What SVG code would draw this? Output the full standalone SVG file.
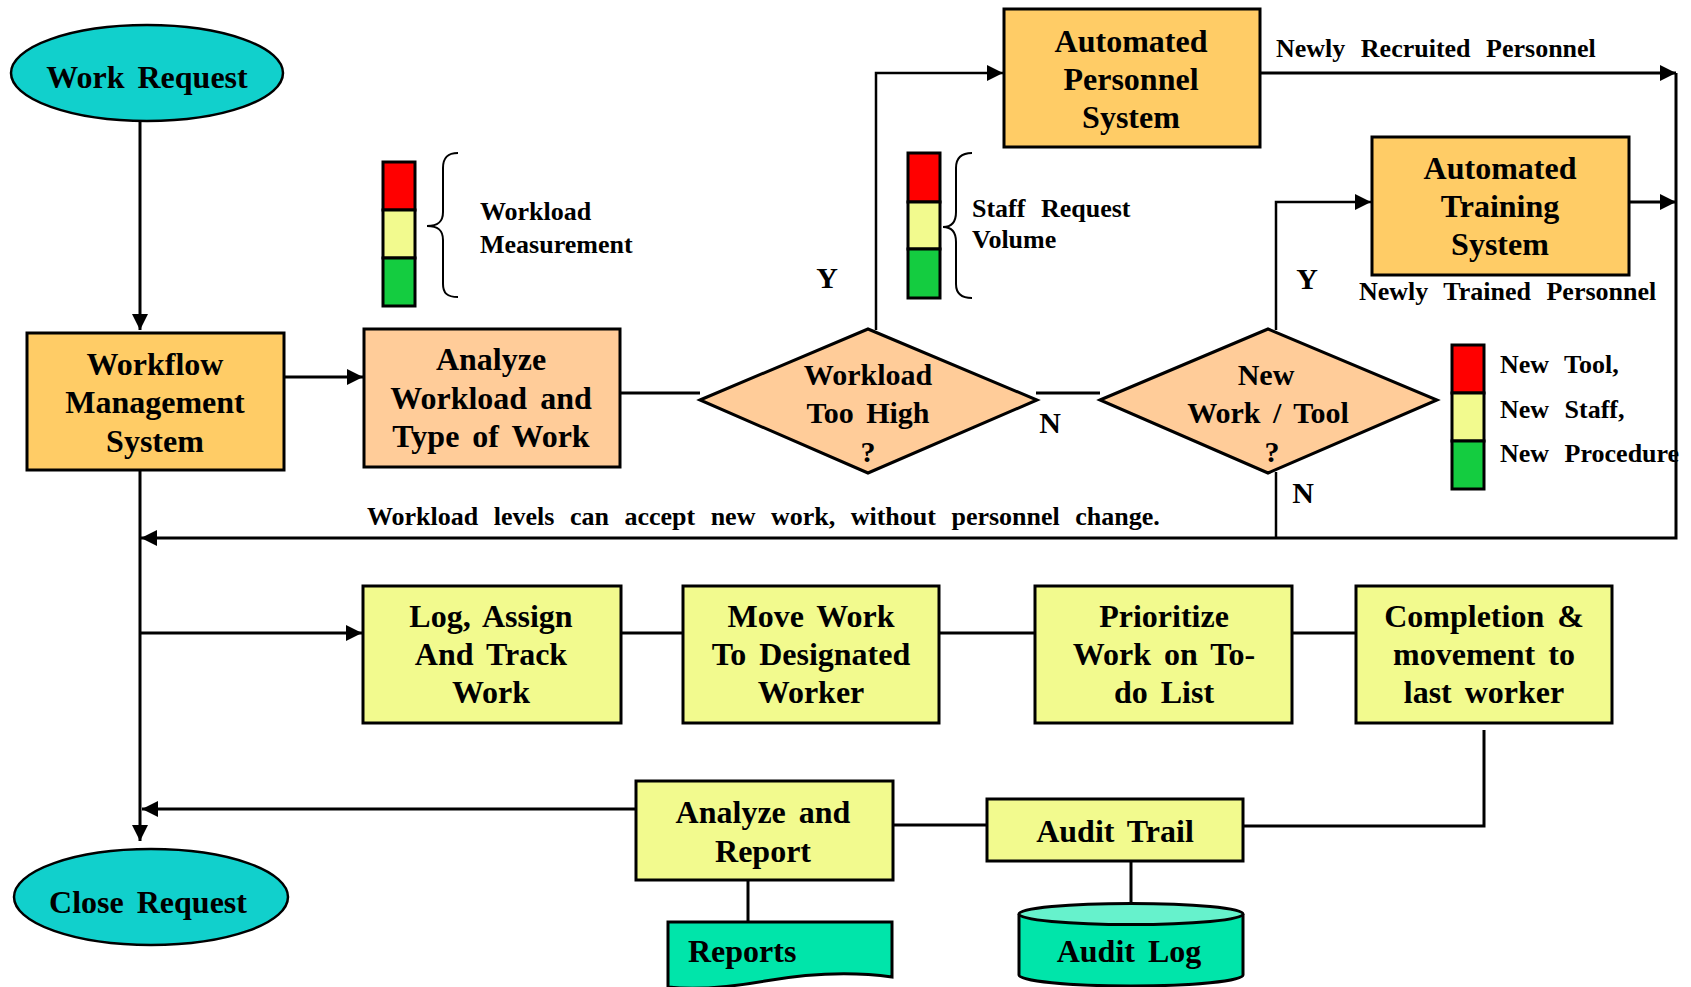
<svg xmlns="http://www.w3.org/2000/svg" width="1691" height="987" viewBox="0 0 1691 987">
  <defs>
    <marker id="arrow" viewBox="0 0 16 16" refX="16" refY="8" markerWidth="16" markerHeight="16" markerUnits="userSpaceOnUse" orient="auto">
      <path d="M0,0 L16,8 L0,16 Z" fill="#000"/>
    </marker>
    <style>
      text { font-family: "Liberation Serif", "Times New Roman", serif; font-weight: bold; fill: #000; }
      .big { font-size: 32px; word-spacing: 5px; text-anchor: middle; }
      .dia { font-size: 30px; word-spacing: 5px; text-anchor: middle; }
      .small { font-size: 26px; word-spacing: 9px; }
      .yn { font-size: 30px; text-anchor: middle; }
      .box { stroke: #000; stroke-width: 3; }
      .term { fill: #11D0CC; stroke: #000; stroke-width: 2.5; }
      .sys { fill: #FFCC66; }
      .peach { fill: #FFCC99; }
      .task { fill: #F2FA8E; }
      .store { fill: #00E5AA; stroke: #000; stroke-width: 3; }
      .conn { fill: none; stroke: #000; stroke-width: 3; }
      .thin { fill: none; stroke: #000; stroke-width: 2.5; }
      .brace { fill: none; stroke: #000; stroke-width: 2; }
      .lamp { stroke: #000; stroke-width: 3; }
    </style>
  </defs>

  <!-- connectors -->
  <g id="connectors">
    <path class="conn" d="M140,121 V330" marker-end="url(#arrow)"/>
    <path class="conn" d="M284,377 H363" marker-end="url(#arrow)"/>
    <path class="conn" d="M620,393 H700"/>
    <path class="thin" d="M876,330 V73 H1003" marker-end="url(#arrow)"/>
    <path class="conn" d="M1036,393 H1100"/>
    <path class="thin" d="M1276,330 V202 H1371" marker-end="url(#arrow)"/>
    <path class="thin" d="M1276,472 V538"/>
    <path class="conn" d="M1260,73 H1676" marker-end="url(#arrow)"/>
    <path class="conn" d="M1629,202 H1676" marker-end="url(#arrow)"/>
    <path class="conn" d="M1676,73 V538 H141" marker-end="url(#arrow)"/>
    <path class="conn" d="M140,470 V841" marker-end="url(#arrow)"/>
    <path class="conn" d="M140,633 H362" marker-end="url(#arrow)"/>
    <path class="conn" d="M621,633 H683"/>
    <path class="conn" d="M939,633 H1035"/>
    <path class="conn" d="M1292,633 H1356"/>
    <path class="conn" d="M1484,730 V826 H1243"/>
    <path class="conn" d="M893,825 H987"/>
    <path class="conn" d="M636,809 H142" marker-end="url(#arrow)"/>
    <path class="conn" d="M748,873 V922"/>
    <path class="conn" d="M1131,858 V904"/>
  </g>

  <g id="work-request">
    <ellipse class="term" cx="147" cy="73" rx="136" ry="48"/>
    <text class="big" x="147" y="88">Work Request</text>
  </g>

  <g id="workflow-management">
    <rect class="box sys" x="27" y="333" width="257" height="137"/>
    <text class="big" x="155" y="375">Workflow</text>
    <text class="big" x="155" y="413">Management</text>
    <text class="big" x="155" y="452">System</text>
  </g>

  <g id="analyze-workload">
    <rect class="box peach" x="364" y="329" width="256" height="138"/>
    <text class="big" x="491" y="370">Analyze</text>
    <text class="big" x="491" y="409">Workload and</text>
    <text class="big" x="491" y="447">Type of Work</text>
  </g>

  <g id="workload-measurement">
    <rect class="lamp" x="383" y="162" width="32" height="48" fill="#FF0000"/>
    <rect class="lamp" x="383" y="210" width="32" height="48" fill="#F2FA8E"/>
    <rect class="lamp" x="383" y="258" width="32" height="48" fill="#14CC40"/>
    <path class="brace" d="M458,153 C447,153 443,158 443,168 V212 C443,222 438,226 427,226 C438,226 443,230 443,240 V284 C443,293 447,297 458,297"/>
    <text class="small" x="480" y="220">Workload</text>
    <text class="small" x="480" y="253">Measurement</text>
  </g>

  <g id="workload-too-high">
    <polygon class="box peach" points="700,400 868,329 1037,400 868,473"/>
    <text class="dia" x="868" y="385">Workload</text>
    <text class="dia" x="868" y="423">Too High</text>
    <text class="dia" x="868" y="462">?</text>
  </g>

  <g id="staff-request-volume">
    <rect class="lamp" x="908" y="153" width="32" height="49" fill="#FF0000"/>
    <rect class="lamp" x="908" y="202" width="32" height="47" fill="#F2FA8E"/>
    <rect class="lamp" x="908" y="249" width="32" height="49" fill="#14CC40"/>
    <path class="brace" d="M972,153 C961,153 956,158 956,168 V212 C956,222 952,227 943,227 C952,227 956,232 956,242 V284 C956,293 961,298 972,298"/>
    <text class="small" x="972" y="217">Staff Request</text>
    <text class="small" x="972" y="248">Volume</text>
  </g>

  <g id="automated-personnel">
    <rect class="box sys" x="1004" y="9" width="256" height="138"/>
    <text class="big" x="1131" y="52">Automated</text>
    <text class="big" x="1131" y="90">Personnel</text>
    <text class="big" x="1131" y="128">System</text>
  </g>

  <g id="new-work-tool">
    <polygon class="box peach" points="1100,400 1268,329 1437,400 1268,473"/>
    <text class="dia" x="1266" y="385">New</text>
    <text class="dia" x="1268" y="423">Work / Tool</text>
    <text class="dia" x="1272" y="462">?</text>
  </g>

  <g id="automated-training">
    <rect class="box sys" x="1372" y="137" width="257" height="138"/>
    <text class="big" x="1500" y="179">Automated</text>
    <text class="big" x="1500" y="217">Training</text>
    <text class="big" x="1500" y="255">System</text>
  </g>

  <g id="change-types">
    <rect class="lamp" x="1452" y="345" width="32" height="48" fill="#FF0000"/>
    <rect class="lamp" x="1452" y="393" width="32" height="48" fill="#F2FA8E"/>
    <rect class="lamp" x="1452" y="441" width="32" height="48" fill="#14CC40"/>
    <text class="small" x="1500" y="373">New Tool,</text>
    <text class="small" x="1500" y="418">New Staff,</text>
    <text class="small" x="1500" y="462">New Procedure</text>
  </g>

  <g id="labels">
    <text class="yn" x="827" y="288">Y</text>
    <text class="yn" x="1050" y="433">N</text>
    <text class="yn" x="1307" y="289">Y</text>
    <text class="yn" x="1303" y="503">N</text>
    <text class="small" x="1276" y="57">Newly Recruited Personnel</text>
    <text class="small" x="1359" y="300">Newly Trained Personnel</text>
    <text class="small" x="367" y="525">Workload levels can accept new work, without personnel change.</text>
  </g>

  <g id="log-assign">
    <rect class="box task" x="363" y="586" width="258" height="137"/>
    <text class="big" x="491" y="627">Log, Assign</text>
    <text class="big" x="491" y="665">And Track</text>
    <text class="big" x="491" y="703">Work</text>
  </g>

  <g id="move-work">
    <rect class="box task" x="683" y="586" width="256" height="137"/>
    <text class="big" x="811" y="627">Move Work</text>
    <text class="big" x="811" y="665">To Designated</text>
    <text class="big" x="811" y="703">Worker</text>
  </g>

  <g id="prioritize">
    <rect class="box task" x="1035" y="586" width="257" height="137"/>
    <text class="big" x="1164" y="627">Prioritize</text>
    <text class="big" x="1164" y="665">Work on To-</text>
    <text class="big" x="1164" y="703">do List</text>
  </g>

  <g id="completion">
    <rect class="box task" x="1356" y="586" width="256" height="137"/>
    <text class="big" x="1484" y="627">Completion &amp;</text>
    <text class="big" x="1484" y="665">movement to</text>
    <text class="big" x="1484" y="703">last worker</text>
  </g>

  <g id="analyze-report">
    <rect class="box task" x="636" y="781" width="257" height="99"/>
    <text class="big" x="763" y="823">Analyze and</text>
    <text class="big" x="763" y="862">Report</text>
  </g>

  <g id="audit-trail">
    <rect class="box task" x="987" y="799" width="256" height="62"/>
    <text class="big" x="1115" y="842">Audit Trail</text>
  </g>

  <g id="close-request">
    <ellipse class="term" cx="151" cy="897" rx="137" ry="48"/>
    <text class="big" x="148" y="913">Close Request</text>
  </g>

  <g id="reports">
    <path class="store" d="M668,922 H892 V977 C850,971 805,974 765,981 C725,988 695,990 668,987 Z"/>
    <text class="big" x="688" y="962" style="text-anchor:start">Reports</text>
  </g>

  <g id="audit-log">
    <path class="store" d="M1019,914 V975 A112,11 0 0 0 1243,975 V914"/>
    <ellipse cx="1131" cy="914" rx="112" ry="10.5" fill="#66F2CC" stroke="#000" stroke-width="3"/>
    <text class="big" x="1129" y="962">Audit Log</text>
  </g>
</svg>
